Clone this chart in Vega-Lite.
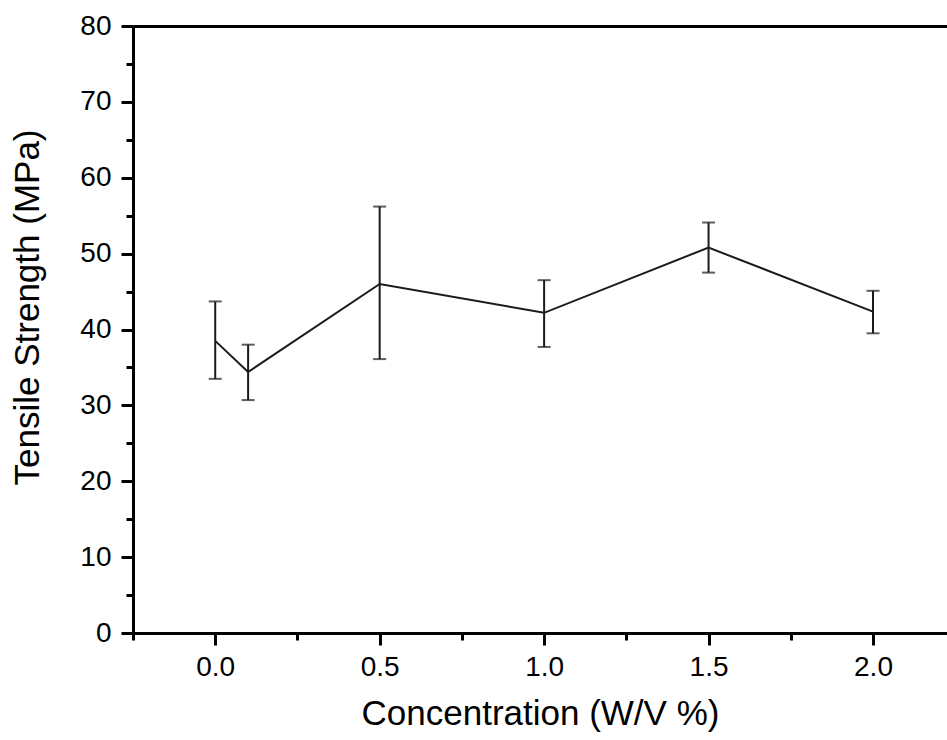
{
  "$schema": "https://vega.github.io/schema/vega-lite/v6.json",
  "width": 814,
  "height": 607,
  "autosize": "none",
  "padding": {"left": 133, "top": 26, "right": 0, "bottom": 107},
  "background": "white",
  "config": {
    "view": {"stroke": null},
    "font": "Liberation Sans",
    "axis": {
      "grid": false,
      "domainColor": "black",
      "domainWidth": 3,
      "tickColor": "black",
      "tickWidth": 3,
      "labelColor": "black",
      "labelFont": "Liberation Sans",
      "labelFontSize": 28,
      "titleFont": "Liberation Sans",
      "titleFontSize": 35,
      "titleFontWeight": "normal",
      "titleColor": "black",
      "labelFlush": false,
      "labelOverlap": false
    }
  },
  "data": {
    "values": [
      {"conc": 0.0, "mean": 38.5, "lo": 33.5, "hi": 43.7},
      {"conc": 0.1, "mean": 34.4, "lo": 30.7, "hi": 38.0},
      {"conc": 0.5, "mean": 46.0, "lo": 36.1, "hi": 56.2},
      {"conc": 1.0, "mean": 42.2, "lo": 37.7, "hi": 46.5},
      {"conc": 1.5, "mean": 50.8, "lo": 47.5, "hi": 54.1},
      {"conc": 2.0, "mean": 42.35, "lo": 39.5, "hi": 45.1}
    ]
  },
  "layer": [
    {
      "mark": {"type": "line", "color": "#1a1a1a", "strokeWidth": 2},
      "encoding": {
        "x": {
          "field": "conc",
          "type": "quantitative",
          "scale": {"domain": [-0.25, 2.225], "nice": false, "zero": false},
          "axis": {
            "orient": "bottom",
            "title": "Concentration (W/V %)",
            "values": [-0.25, 0, 0.25, 0.5, 0.75, 1, 1.25, 1.5, 1.75, 2],
            "labelExpr": "abs(datum.value*2-round(datum.value*2))<0.001 ? format(datum.value,'.1f') : ''",
            "tickSize": {"condition": {"test": "abs(datum.value*2-round(datum.value*2))<0.001", "value": 12}, "value": 7},
            "labelFontSize": 28,
            "titleFontSize": 35,
            "labelPadding": 8,
            "titlePadding": 15
          }
        },
        "y": {
          "field": "mean",
          "type": "quantitative",
          "scale": {"domain": [0, 80], "nice": false, "zero": false},
          "axis": {
            "title": "Tensile Strength (MPa)",
            "values": [0, 5, 10, 15, 20, 25, 30, 35, 40, 45, 50, 55, 60, 65, 70, 75, 80],
            "labelExpr": "datum.value % 10 == 0 ? datum.value : ''",
            "tickSize": {"condition": {"test": "datum.value % 10 == 0", "value": 12}, "value": 7},
            "labelFontSize": 28,
            "titleFontSize": 35,
            "labelPadding": 10,
            "titlePadding": 34,
            "titleY": 281
          }
        }
      }
    },
    {
      "mark": {
        "type": "errorbar",
        "orient": "vertical",
        "ticks": {"size": 13, "thickness": 2, "color": "#1a1a1a"},
        "rule": {"strokeWidth": 2, "color": "#1a1a1a"}
      },
      "encoding": {
        "x": {"field": "conc", "type": "quantitative", "axis": null},
        "y": {
          "field": "lo",
          "type": "quantitative",
          "axis": {
            "title": "Tensile Strength (MPa)",
            "values": [0, 5, 10, 15, 20, 25, 30, 35, 40, 45, 50, 55, 60, 65, 70, 75, 80],
            "labelExpr": "datum.value % 10 == 0 ? datum.value : ''",
            "tickSize": {"condition": {"test": "datum.value % 10 == 0", "value": 12}, "value": 7},
            "labelFontSize": 28,
            "titleFontSize": 35,
            "labelPadding": 10,
            "titlePadding": 34,
            "titleY": 281
          }
        },
        "y2": {"field": "hi"}
      }
    },
    {
      "mark": {"type": "line", "opacity": 0},
      "encoding": {
        "x": {
          "field": "conc",
          "type": "quantitative",
          "axis": {"orient": "top", "labels": false, "ticks": false, "title": null, "domainWidth": 3, "domainColor": "black"}
        },
        "y": {
          "field": "mean",
          "type": "quantitative",
          "axis": {
            "title": "Tensile Strength (MPa)",
            "values": [0, 5, 10, 15, 20, 25, 30, 35, 40, 45, 50, 55, 60, 65, 70, 75, 80],
            "labelExpr": "datum.value % 10 == 0 ? datum.value : ''",
            "tickSize": {"condition": {"test": "datum.value % 10 == 0", "value": 12}, "value": 7},
            "labelFontSize": 28,
            "titleFontSize": 35,
            "labelPadding": 10,
            "titlePadding": 34,
            "titleY": 281
          }
        }
      }
    }
  ],
  "resolve": {"axis": {"x": "independent"}}
}
